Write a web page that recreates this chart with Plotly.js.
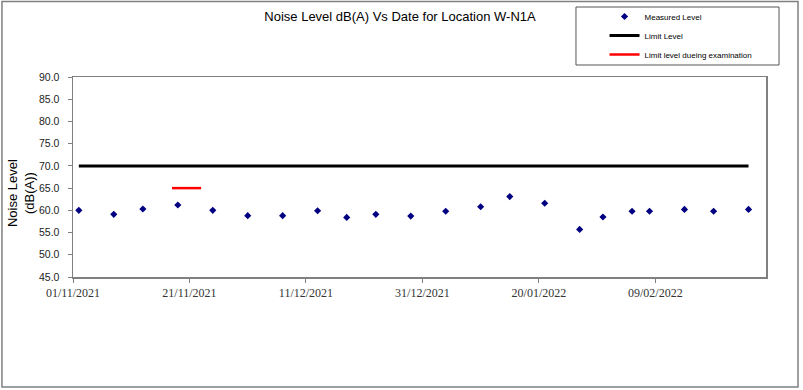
<!DOCTYPE html>
<html>
<head>
<meta charset="utf-8">
<script src="https://cdn.plot.ly/plotly-3.0.1.min.js"></script>
<style>
  html, body { margin: 0; padding: 0; background: #ffffff; }
  #chart { width: 803px; height: 390px; }
</style>
</head>
<body>
<div id="chart"></div>
<script>
// Measurement dates and levels (dB(A))
const measureDates = ['2021-11-02','2021-11-08','2021-11-13','2021-11-19','2021-11-25','2021-12-01','2021-12-07','2021-12-13','2021-12-18','2021-12-23','2021-12-29','2022-01-04','2022-01-10','2022-01-15','2022-01-21','2022-01-27','2022-01-31','2022-02-05','2022-02-08','2022-02-14','2022-02-19','2022-02-25'];
const measuredLevels = [60.0,59.1,60.3,61.2,60.0,58.8,58.8,59.9,58.4,59.1,58.7,59.8,60.8,63.1,61.6,55.7,58.5,59.8,59.8,60.2,59.8,60.2];

// Limit level
const limitDates = ['2021-11-02','2022-02-25'];
const limitLevels = [70, 70];

// Limit level during examination
const examDates = ['2021-11-18','2021-11-23'];
const examLevels = [65, 65];

const seriesNames = ['Measured Level','Limit Level','Limit level dueing examination'];
const chartTitle = 'Noise Level dB(A) Vs Date for Location W-N1A';
const yTitle = 'Noise Level<br>(dB(A))';

const traces = [
  {
    x: measureDates, y: measuredLevels, type: 'scatter', mode: 'markers',
    name: seriesNames[0],
    marker: { symbol: 'diamond', color: '#000080', size: 5.5 }
  },
  {
    x: limitDates, y: limitLevels, type: 'scatter', mode: 'lines',
    name: seriesNames[1],
    line: { color: '#000000', width: 3 }
  },
  {
    x: examDates, y: examLevels, type: 'scatter', mode: 'lines',
    name: seriesNames[2],
    line: { color: '#ff0000', width: 2.5 }
  }
];

const layout = {
  width: 803, height: 390,
  margin: { l: 73, r: 37, t: 77, b: 113, autoexpand: false },
  paper_bgcolor: '#ffffff', plot_bgcolor: '#ffffff',
  font: { family: 'Liberation Sans, Arial, sans-serif', color: '#000000' },
  showlegend: true,
  title: {
    text: chartTitle,
    font: { family: 'Liberation Sans, Arial, sans-serif', size: 13, color: '#000000' },
    x: 0.4719, xref: 'paper', xanchor: 'center', y: 0.958, yanchor: 'middle'
  },
  xaxis: {
    type: 'date',
    range: ['2021-11-01', '2022-02-28'],
    tick0: '2021-11-01', dtick: 20 * 24 * 3600 * 1000,
    tickformat: '%d/%m/%Y',
    ticks: 'outside', ticklen: 4, tickcolor: '#808080',
    tickfont: { family: 'Liberation Serif, Times New Roman, serif', size: 12, color: '#333333' },
    showgrid: false, zeroline: false,
    showline: true, linecolor: '#808080', linewidth: 1.5, mirror: true
  },
  yaxis: {
    range: [45, 90], dtick: 5, tick0: 45,
    tickformat: '.1f',
    ticks: 'outside', ticklen: 4, tickcolor: '#808080',
    ticklabelstandoff: 6,
    tickfont: { family: 'Liberation Sans, Arial, sans-serif', size: 10.5, color: '#222222' },
    showgrid: false, zeroline: false,
    showline: true, linecolor: '#808080', linewidth: 1.5, mirror: true
  },
  legend: {
    x: 0.767, y: 1.375, xanchor: 'left', yanchor: 'top',
    bgcolor: 'rgba(0,0,0,0)', borderwidth: 0,
    font: { family: 'Liberation Sans, Arial, sans-serif', size: 8, color: '#000000' },
    tracegroupgap: 0
  },
  annotations: [
    { text: yTitle, xref: 'paper', yref: 'paper', x: -0.075, y: 0.42,
      xanchor: 'center', yanchor: 'middle', textangle: -90, showarrow: false,
      font: { family: 'Liberation Sans, Arial, sans-serif', size: 13, color: '#000000' } }
  ],
  shapes: [
    // legend box
    { type: 'rect', xref: 'paper', yref: 'paper', x0: 0.7258, x1: 1.0188, y0: 1.06, y1: 1.35,
      line: { color: '#555555', width: 1 }, fillcolor: 'rgba(0,0,0,0)' },
    // outer frame
    { type: 'rect', xref: 'paper', yref: 'paper', x0: -0.1025, x1: 1.0462, y0: -0.55, y1: 1.378,
      line: { color: '#808080', width: 1.5 }, fillcolor: 'rgba(0,0,0,0)' }
  ]
};

Plotly.newPlot('chart', traces, layout, { displayModeBar: false, staticPlot: true });
</script>
</body>
</html>
